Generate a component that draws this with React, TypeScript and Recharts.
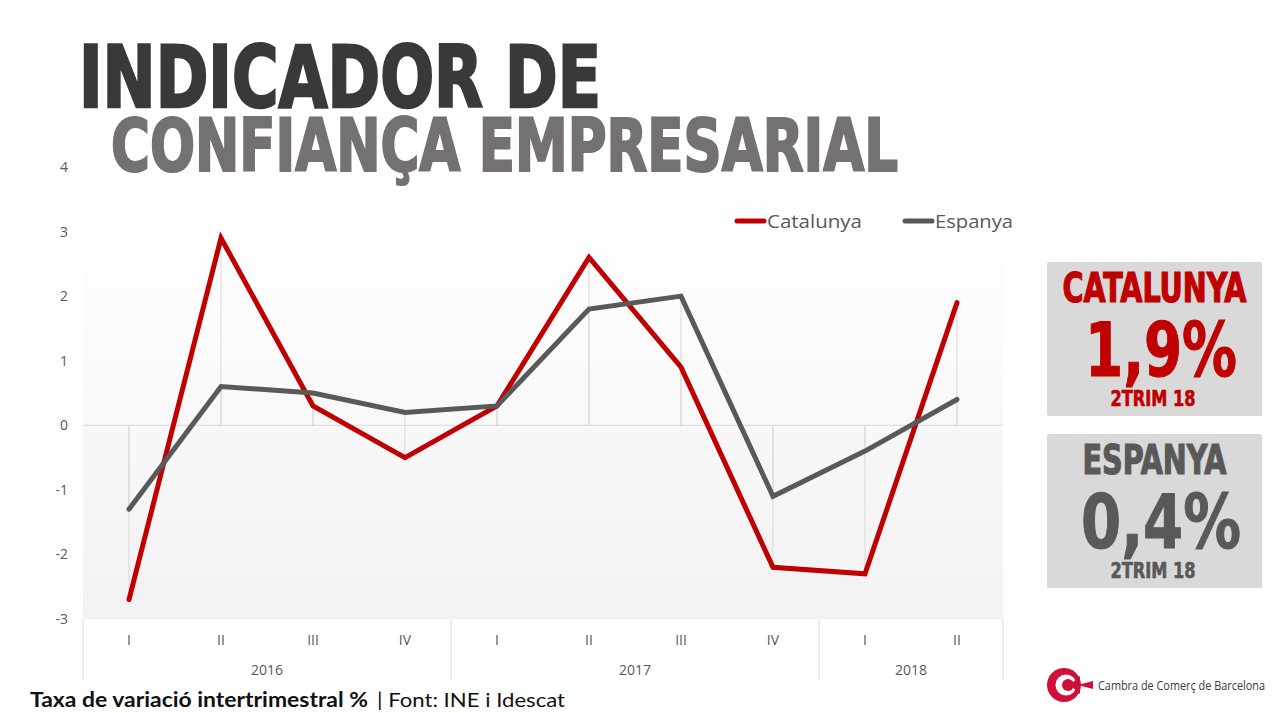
import React from 'react';
import { LineChart, Line, XAxis, YAxis, ReferenceLine, CartesianGrid } from 'recharts';

// ---- data ----
const quarters = ['I', 'II', 'III', 'IV', 'I', 'II', 'III', 'IV', 'I', 'II'];
const years = ['2016', '2016', '2016', '2016', '2017', '2017', '2017', '2017', '2018', '2018'];
const catalunya = [-2.7, 2.9, 0.3, -0.5, 0.3, 2.6, 0.9, -2.2, -2.3, 1.9];
const espanya = [-1.3, 0.6, 0.5, 0.2, 0.3, 1.8, 2.0, -1.1, -0.4, 0.4];
const yTicks = [-3, -2, -1, 0, 1, 2, 3, 4];
const seriesNames = ['Catalunya', 'Espanya'];
const latestLabel = '2TRIM 18';

const data = quarters.map((q, i) => ({
  key: `${years[i]}-${q}`,
  q,
  year: years[i],
  cat: catalunya[i],
  esp: espanya[i],
}));

// ---- layout ----
const W = 1275;
const H = 713;
const PLOT_LEFT = 83;
const PLOT_RIGHT = 1003;
const PAD = 46;
const STEP = (PLOT_RIGHT - PLOT_LEFT - 2 * PAD) / (data.length - 1);
const RED = '#c00000';
const GREY = '#595959';
const AXIS_FONT = '"Open Sans", sans-serif';
const TITLE_FONT = '"DejaVu Sans Condensed", "DejaVu Sans", sans-serif';

const fmtPct = (v: number) => v.toFixed(1).replace('.', ',') + '%';

const XTick = (props: any) => {
  const { x, y, payload } = props;
  const i = data.findIndex((d) => d.key === payload.value);
  if (i < 0) return null;
  const d = data[i];
  const firstOfYear = i === 0 || data[i - 1].year !== d.year;
  const isLast = i === data.length - 1;
  const count = data.filter((e) => e.year === d.year).length;
  return (
    <g>
      <text x={x} y={y + 26} textAnchor="middle" fill={GREY} fontSize={14} fontFamily={AXIS_FONT}>
        {d.q}
      </text>
      {firstOfYear && (
        <>
          <line x1={x - STEP / 2} x2={x - STEP / 2} y1={y} y2={y + 61} stroke="#d9d9d9" strokeWidth={1} />
          <text
            x={x + ((count - 1) * STEP) / 2}
            y={y + 56}
            textAnchor="middle"
            fill={GREY}
            fontSize={14}
            fontFamily={AXIS_FONT}
          >
            {d.year}
          </text>
        </>
      )}
      {isLast && <line x1={x + STEP / 2} x2={x + STEP / 2} y1={y} y2={y + 61} stroke="#d9d9d9" strokeWidth={1} />}
    </g>
  );
};

const Panel = ({ y, name, value, color }: { y: number; name: string; value: number; color: string }) => (
  <g>
    <rect x={1047} y={y} width={215} height={154} rx={2} fill="#d9d9d9" />
    <text
      x={1154.5}
      y={y + 40}
      textAnchor="middle"
      fill={color}
      stroke={color}
      strokeWidth={1.2}
      fontFamily={TITLE_FONT}
      fontWeight="bold"
      fontSize={40}
      textLength={name === 'CATALUNYA' ? 184 : 144}
      lengthAdjust="spacingAndGlyphs"
    >
      {name}
    </text>
    <text
      x={1161}
      y={y + 114}
      textAnchor="middle"
      fill={color}
      stroke={color}
      strokeWidth={1}
      fontFamily={TITLE_FONT}
      fontWeight="bold"
      fontSize={74}
      textLength={name === 'CATALUNYA' ? 152 : 160}
      lengthAdjust="spacingAndGlyphs"
    >
      {fmtPct(value)}
    </text>
    <text
      x={1153}
      y={y + 144}
      textAnchor="middle"
      fill={color}
      stroke={color}
      strokeWidth={0.6}
      fontFamily={TITLE_FONT}
      fontWeight="bold"
      fontSize={21}
      textLength={85}
      lengthAdjust="spacingAndGlyphs"
    >
      {latestLabel}
    </text>
  </g>
);

export default function App() {
  return (
    <div style={{ position: 'absolute', left: 0, top: 0, width: W, height: H, background: '#ffffff', overflow: 'hidden' }}>
      <div style={{ position: 'absolute', left: 0, top: 0 }}>
        <LineChart width={W} height={H} data={data} margin={{ top: 167, right: W - PLOT_RIGHT, bottom: 34, left: 23 }}>
          <defs>
            <linearGradient id="plotBg" x1="0" y1="0" x2="0" y2="1">
              <stop offset="0" stopColor="#ffffff" />
              <stop offset="0.17" stopColor="#fefefe" />
              <stop offset="1" stopColor="#f2f2f2" />
            </linearGradient>
          </defs>
          <CartesianGrid horizontal={false} vertical={false} fill="url(#plotBg)" fillOpacity={1} stroke="none" />
          <XAxis
            dataKey="key"
            height={60}
            padding={{ left: PAD, right: PAD }}
            axisLine={false}
            tickLine={false}
            tickSize={0}
            tickMargin={0}
            interval={0}
            tick={<XTick />}
          />
          <YAxis
            width={60}
            domain={[-3, 4]}
            ticks={yTicks}
            interval={0}
            axisLine={false}
            tickLine={false}
            tickSize={0}
            tickMargin={15}
            tick={{ fill: GREY, fontSize: 14, fontFamily: AXIS_FONT }}
          />
          <ReferenceLine y={0} stroke="#d9d9d9" strokeWidth={1} />
          {data.map((d) => (
            <ReferenceLine
              key={'dc' + d.key}
              segment={[{ x: d.key, y: 0 }, { x: d.key, y: d.cat }]}
              stroke="#d9d9d9"
              strokeWidth={1}
            />
          ))}
          {data.map((d) => (
            <ReferenceLine
              key={'de' + d.key}
              segment={[{ x: d.key, y: 0 }, { x: d.key, y: d.esp }]}
              stroke="#d9d9d9"
              strokeWidth={1}
            />
          ))}
          <Line
            dataKey="cat"
            name={seriesNames[0]}
            stroke={RED}
            strokeWidth={5}
            strokeLinecap="round"
            dot={false}
            activeDot={false}
            isAnimationActive={false}
          />
          <Line
            dataKey="esp"
            name={seriesNames[1]}
            stroke={GREY}
            strokeWidth={5}
            strokeLinecap="round"
            dot={false}
            activeDot={false}
            isAnimationActive={false}
          />
        </LineChart>
      </div>
      <svg width={W} height={H} style={{ position: 'absolute', left: 0, top: 0, pointerEvents: 'none' }}>
        {/* titles */}
        <text
          x={79}
          y={107}
          fill="#3b3838"
          stroke="#3b3838"
          strokeWidth={2.5}
          fontFamily={TITLE_FONT}
          fontWeight="bold"
          fontSize={85}
          textLength={522}
          lengthAdjust="spacingAndGlyphs"
        >
          INDICADOR DE
        </text>
        <text
          x={111}
          y={171}
          fill="#767171"
          stroke="#767171"
          strokeWidth={2.2}
          fontFamily={TITLE_FONT}
          fontWeight="bold"
          fontSize={73}
          textLength={787}
          lengthAdjust="spacingAndGlyphs"
        >
          CONFIANÇA EMPRESARIAL
        </text>

        {/* legend */}
        <line x1={737} x2={764} y1={221} y2={221} stroke={RED} strokeWidth={5} strokeLinecap="round" />
        <text x={767} y={227.5} fill={GREY} fontFamily={AXIS_FONT} fontSize={18.5} textLength={95} lengthAdjust="spacingAndGlyphs">
          {seriesNames[0]}
        </text>
        <line x1={905} x2={932} y1={221} y2={221} stroke={GREY} strokeWidth={5} strokeLinecap="round" />
        <text x={935} y={227.5} fill={GREY} fontFamily={AXIS_FONT} fontSize={18.5} textLength={78} lengthAdjust="spacingAndGlyphs">
          {seriesNames[1]}
        </text>

        {/* side panels */}
        <Panel y={262} name="CATALUNYA" value={catalunya[catalunya.length - 1]} color={RED} />
        <Panel y={434} name="ESPANYA" value={espanya[espanya.length - 1]} color={GREY} />

        {/* footer */}
        <text
          x={30}
          y={707}
          fill="#111111"
          fontFamily='"Lato", sans-serif'
          fontWeight="bold"
          fontSize={20}
          textLength={338}
          lengthAdjust="spacingAndGlyphs"
        >
          Taxa de variació intertrimestral %
        </text>
        <text
          x={377}
          y={707}
          fill="#111111"
          fontFamily='"Lato", sans-serif'
          fontSize={20}
          textLength={188}
          lengthAdjust="spacingAndGlyphs"
        >
          | Font: INE i Idescat
        </text>

        {/* logo */}
        <circle cx={1064} cy={685} r={17} fill="#d0103a" />
        <circle cx={1066} cy={685} r={10.5} fill="#ffffff" />
        <circle cx={1068} cy={685} r={6} fill="#d0103a" />
        <polygon points="1070,685 1080,676 1080,694" fill="#d0103a" />
        <polygon points="1078,685 1093,681 1093,689" fill="#d0103a" />
        <text
          x={1098}
          y={690}
          fill="#3a3a3a"
          fontFamily='"Open Sans", sans-serif'
          fontSize={13}
          textLength={167}
          lengthAdjust="spacingAndGlyphs"
        >
          Cambra de Comerç de Barcelona
        </text>
      </svg>
    </div>
  );
}
